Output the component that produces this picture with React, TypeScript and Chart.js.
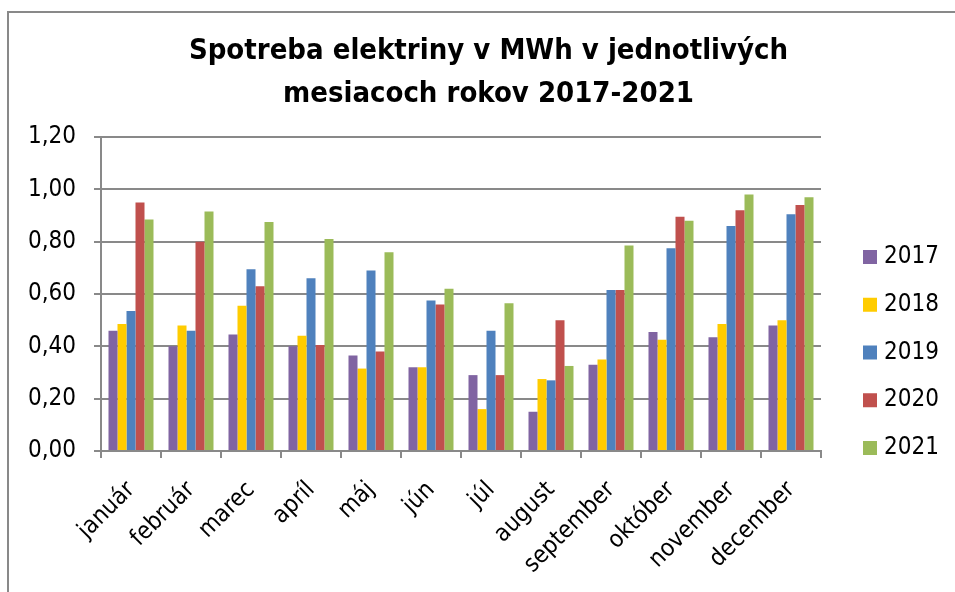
import React, { useEffect, useRef } from 'react';
import { Chart, registerables } from 'chart.js';

Chart.register(...registerables);

const months = ['január', 'február', 'marec', 'apríl', 'máj', 'jún', 'júl', 'august', 'september', 'október', 'november', 'december'];
const seriesNames = ['2017', '2018', '2019', '2020', '2021'];
const seriesColors = ['#8064A2', '#FFCC00', '#4F81BD', '#C0504D', '#9BBB59'];

const values2017 = [0.46, 0.40, 0.445, 0.40, 0.365, 0.32, 0.29, 0.15, 0.33, 0.455, 0.435, 0.48];
const values2018 = [0.485, 0.48, 0.555, 0.44, 0.315, 0.32, 0.16, 0.275, 0.35, 0.425, 0.485, 0.50];
const values2019 = [0.535, 0.46, 0.695, 0.66, 0.69, 0.575, 0.46, 0.27, 0.615, 0.775, 0.86, 0.905];
const values2020 = [0.95, 0.80, 0.63, 0.405, 0.38, 0.56, 0.29, 0.50, 0.615, 0.895, 0.92, 0.94];
const values2021 = [0.885, 0.915, 0.875, 0.81, 0.76, 0.62, 0.565, 0.325, 0.785, 0.88, 0.98, 0.97];

const titleLines = ['Spotreba elektriny v MWh v jednotlivých', 'mesiacoch rokov 2017-2021'];

const FONT = "'DejaVu Sans Condensed', 'DejaVu Sans', sans-serif";
const GRID = '#898989';

const framePlugin = {
  id: 'frame',
  beforeDraw(chart: any) {
    const ctx = chart.ctx;
    ctx.save();
    ctx.fillStyle = '#ffffff';
    ctx.fillRect(0, 0, chart.width, chart.height);
    ctx.strokeStyle = GRID;
    ctx.lineWidth = 2;
    ctx.beginPath();
    ctx.moveTo(8, chart.height);
    ctx.lineTo(8, 12);
    ctx.lineTo(chart.width, 12);
    ctx.stroke();
    ctx.restore();
  },
};

const sideLegendPlugin = {
  id: 'sideLegend',
  afterDraw(chart: any) {
    const ctx = chart.ctx;
    ctx.save();
    ctx.font = `24px ${FONT}`;
    ctx.textBaseline = 'middle';
    ctx.textAlign = 'left';
    chart.data.datasets.forEach((ds: any, i: number) => {
      const y = 257 + i * 47.75;
      ctx.fillStyle = ds.backgroundColor;
      ctx.fillRect(863, y - 7, 14, 14);
      ctx.fillStyle = '#000000';
      ctx.fillText(ds.label, 884, y);
    });
    ctx.restore();
  },
};

export default function App() {
  const ref = useRef<HTMLCanvasElement>(null);
  useEffect(() => {
    const series = [values2017, values2018, values2019, values2020, values2021];
    const chart = new Chart(ref.current as HTMLCanvasElement, {
      type: 'bar',
      data: {
        labels: months,
        datasets: series.map((vals, i) => ({
          label: seriesNames[i],
          data: vals,
          backgroundColor: seriesColors[i],
          borderWidth: 0,
          categoryPercentage: 0.75,
          barPercentage: 1.0,
          yAxisID: 'y',
        })),
      },
      options: {
        responsive: false,
        animation: false,
        devicePixelRatio: 1,
        layout: { padding: { left: 22, right: 0, top: 0, bottom: 0 } },
        plugins: {
          legend: { display: false },
          tooltip: { enabled: false },
          title: {
            display: true,
            text: titleLines,
            color: '#000000',
            font: { family: FONT, size: 29, weight: 'bold', lineHeight: 43 / 29 },
            padding: { top: 30, bottom: 21 },
          },
        },
        scales: {
          x: {
            position: 'bottom',
            offset: true,
            grid: {
              display: true,
              drawOnChartArea: false,
              drawTicks: true,
              tickLength: 7,
              color: GRID,
              lineWidth: 2,
              offset: true,
            },
            border: { display: true, color: GRID, width: 2 },
            ticks: {
              autoSkip: false,
              maxRotation: 45,
              minRotation: 45,
              color: '#000000',
              padding: 18,
              font: { family: FONT, size: 24 },
            },
            afterFit(scale: any) {
              scale.height = 141;
            },
          },
          y: {
            position: 'left',
            min: 0,
            max: 1.2,
            grid: { color: GRID, lineWidth: 2, tickLength: 7, drawTicks: true },
            border: { display: true, color: GRID, width: 2 },
            ticks: {
              stepSize: 0.2,
              color: '#000000',
              padding: 18,
              font: { family: FONT, size: 24 },
              callback: (v: any) => Number(v).toFixed(2).replace('.', ','),
            },
            afterFit(scale: any) {
              scale.width = 79;
            },
          },
          yR: {
            position: 'right',
            display: true,
            grid: { display: false, drawTicks: false },
            border: { display: false },
            ticks: { display: false },
            afterFit(scale: any) {
              scale.width = 134;
            },
          },
        },
      },
      plugins: [framePlugin, sideLegendPlugin],
    } as any);
    return () => chart.destroy();
  }, []);
  return (
    <div style={{ position: 'absolute', left: 0, top: 0, width: 955, height: 592 }}>
      <canvas ref={ref} width={955} height={592} />
    </div>
  );
}
